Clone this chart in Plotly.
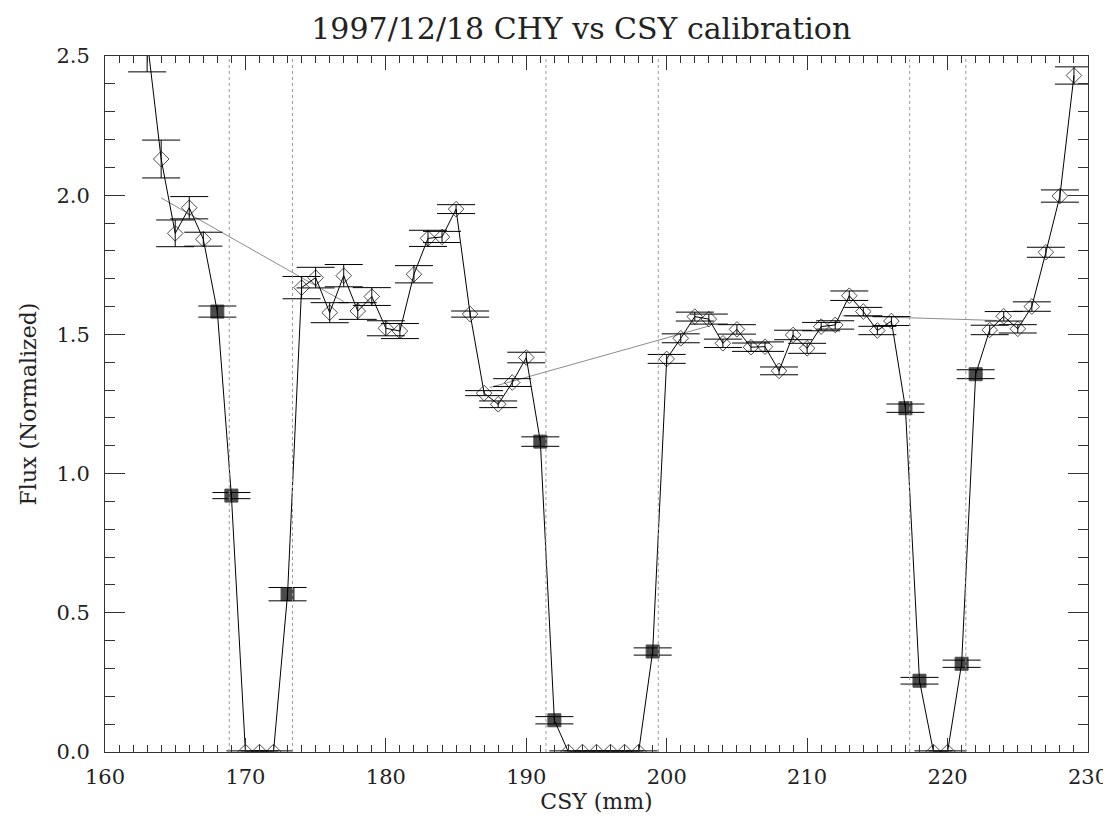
import plotly.graph_objects as go

# CSY position (mm) and normalized flux with 1-sigma errors
csy = [163, 164, 165, 166, 167, 168, 169, 170, 171, 172, 173, 174, 175, 176,
       177, 178, 179, 180, 181, 182, 183, 184, 185, 186, 187, 188, 189, 190,
       191, 192, 193, 194, 195, 196, 197, 198, 199, 200, 201, 202, 203, 204,
       205, 206, 207, 208, 209, 210, 211, 212, 213, 214, 215, 216, 217, 218,
       219, 220, 221, 222, 223, 224, 225, 226, 227, 228, 229]
flux = [2.56, 2.13, 1.863, 1.955, 1.842, 1.582, 0.921, 0.0, 0.0, 0.0, 0.567,
        1.668, 1.704, 1.578, 1.711, 1.584, 1.636, 1.522, 1.512, 1.716, 1.845,
        1.850, 1.950, 1.573, 1.289, 1.249, 1.327, 1.417, 1.115, 0.114,
        0.0, 0.0, 0.0, 0.0, 0.0, 0.0, 0.361, 1.412, 1.486, 1.564, 1.555,
        1.468, 1.518, 1.454, 1.456, 1.369, 1.498, 1.450, 1.528, 1.534, 1.639,
        1.582, 1.514, 1.548, 1.235, 0.256, 0.0, 0.0, 0.317, 1.357, 1.516,
        1.565, 1.520, 1.600, 1.795, 1.997, 2.430]
flux_err = [0.117, 0.068, 0.048, 0.040, 0.025, 0.020, 0.011, 0.004, 0.004,
            0.004, 0.024, 0.040, 0.037, 0.036, 0.040, 0.030, 0.032, 0.027,
            0.027, 0.031, 0.029, 0.020, 0.016, 0.011, 0.009, 0.012, 0.014,
            0.019, 0.017, 0.013, 0.004, 0.004, 0.004, 0.004, 0.004, 0.004,
            0.013, 0.016, 0.016, 0.016, 0.018, 0.015, 0.017, 0.015, 0.017,
            0.014, 0.017, 0.018, 0.015, 0.015, 0.017, 0.015, 0.015, 0.016,
            0.015, 0.012, 0.004, 0.004, 0.013, 0.016, 0.017, 0.017, 0.015,
            0.017, 0.018, 0.022, 0.031]
# points on the edges of the slits (filled squares)
edge_pts = [168, 169, 173, 191, 192, 199, 217, 218, 221, 222]
# fitted edge positions (dotted lines)
edges = [168.85, 173.35, 191.4, 199.4, 217.3, 221.3]
# plateau trend (gray line), None = break
trend_x = [164, 177, None, 187.4, 203, None, 212.5, 223.5]
trend_y = [1.99, 1.618, None, 1.309, 1.53, None, 1.567, 1.55]

symbols = ["square" if c in edge_pts else "diamond-open" for c in csy]
sizes = [13 if c in edge_pts else 12 for c in csy]

fig = go.Figure()
fig.add_trace(go.Scatter(
    x=trend_x, y=trend_y, mode="lines",
    line=dict(color="#8c8c8c", width=1), showlegend=False))
fig.add_trace(go.Scatter(
    x=csy, y=flux, mode="lines+markers",
    line=dict(color="black", width=1),
    marker=dict(symbol=symbols, size=sizes, color="black",
                line=dict(color="black", width=1)),
    error_y=dict(type="data", array=flux_err, visible=True,
                 color="black", thickness=1, width=19),
    showlegend=False))
# empty trace so the top/right tick axes get drawn
fig.add_trace(go.Scatter(x=[None], y=[None], xaxis="x2", yaxis="y2",
                         showlegend=False, hoverinfo="skip"))

for e in edges:
    fig.add_shape(type="line", x0=e, x1=e, y0=0, y1=1, yref="paper",
                  line=dict(color="#999999", width=1, dash="dot"))

font = "DejaVu Serif"
axcol = "#333333"
xticks = dict(range=[160, 230], dtick=10, tick0=160, ticks="inside",
              ticklen=14, tickcolor=axcol, showgrid=False, zeroline=False,
              automargin=False,
              minor=dict(dtick=1, ticks="inside", ticklen=7,
                         tickcolor=axcol, showgrid=False))
yticks = dict(range=[0, 2.5], dtick=0.5, tick0=0, ticks="inside",
              ticklen=20, tickcolor=axcol, showgrid=False, zeroline=False,
              automargin=False,
              minor=dict(dtick=0.1, ticks="inside", ticklen=10,
                         tickcolor=axcol, showgrid=False))

fig.update_layout(
    width=1111, height=819,
    margin=dict(l=97, r=31, t=48, b=75),
    paper_bgcolor="white", plot_bgcolor="white",
    font=dict(family=font, color="#222222"),
    title=dict(text="1997/12/18 CHY vs CSY calibration",
               font=dict(family=font, size=30, color="#222222"),
               x=0.516, xanchor="center", y=0.975, yanchor="middle"),
    xaxis=dict(**xticks, showline=True, linecolor=axcol, linewidth=1,
               tickfont=dict(size=21), ticklabelstandoff=6,
               title=dict(text="CSY (mm)", font=dict(size=22), standoff=2)),
    yaxis=dict(**yticks, tickformat=".1f", showline=True, linecolor=axcol,
               linewidth=1, tickfont=dict(size=21), ticklabelstandoff=10,
               title=dict(text="Flux (Normalized)", font=dict(size=22),
                          standoff=13)),
    xaxis2=dict(**xticks, overlaying="x", side="top", anchor="y",
                showticklabels=False, showline=True, linecolor=axcol),
    yaxis2=dict(**yticks, overlaying="y", side="right", anchor="x",
                showticklabels=False, showline=True, linecolor=axcol),
)

fig.write_html("out.html")
